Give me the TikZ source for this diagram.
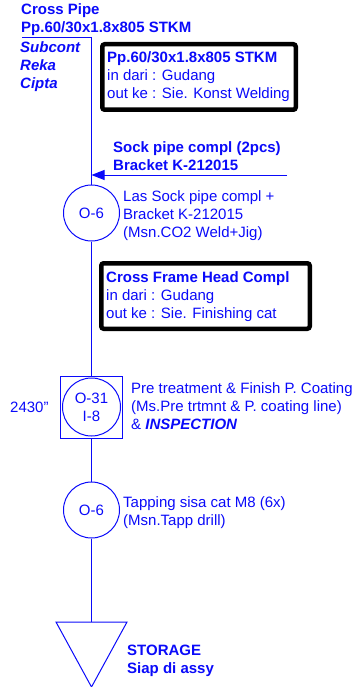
\documentclass[tikz,border=0pt]{standalone}
\usepackage{fontspec}
\setmainfont{Liberation Sans}
\usetikzlibrary{arrows.meta}
\definecolor{fc}{RGB}{10,10,250}
\begin{document}
\begin{tikzpicture}[x=1pt,y=-1pt,
  txt/.style={anchor=base west, inner sep=0pt, align=left, text=fc, font=\fontsize{15}{18}\selectfont},
  ln/.style={draw=fc, line width=1pt},
  opc/.style={circle, draw=fc, line width=1pt, minimum size=56pt, inner sep=0pt, text=fc, align=center, font=\fontsize{15}{18}\selectfont},
  infobox/.style={draw=black, line width=4.5pt, rounded corners=2.5pt, fill=white, inner sep=0pt}]
\useasboundingbox (0,0) rectangle (357,687);
% top material (anchor = baseline of the last line)
\node[txt, font=\fontsize{15}{18}\selectfont\bfseries] (mat) at (21,33) {Cross Pipe\\Pp.60/30x1.8x805 STKM};
\node[txt, font=\fontsize{15}{18}\selectfont\bfseries\itshape] (sub) at (20,89) {Subcont\\Reka\\Cipta};
\coordinate (bl) at (22,38);
\coordinate (br) at (91.5,38);
% info box 1
\node[infobox, minimum width=193.5pt, minimum height=65.5pt] (b1) at (199,77) {};
\node[txt] (b1t) at (107,99) {\textbf{Pp.60/30x1.8x805 STKM}\\in dari : Gudang\\out ke : Sie. Konst Welding};
% incoming arrow
\coordinate (ain) at (287,175);
\coordinate (aout) at (91.5,175);
\node[txt, font=\fontsize{15}{18}\selectfont\bfseries] (sock) at (113,171) {Sock pipe compl (2pcs)\\Bracket K-212015};
% operation 1
\node[opc] (o1) at (91.5,213) {O-6};
\node[txt] (o1t) at (123,237) {Las Sock pipe compl +\\Bracket K-212015\\(Msn.CO2 Weld+Jig)};
% info box 2
\node[infobox, minimum width=208.5pt, minimum height=65.5pt] (b2) at (205.5,296) {};
\node[txt] (b2t) at (106,318) {\textbf{Cross Frame Head Compl}\\in dari : Gudang\\out ke : Sie. Finishing cat};
% combined operation/inspection
\node[draw=fc, line width=1pt, minimum size=62pt, inner sep=0pt] (sq) at (91.5,407) {};
\node[opc, minimum size=58pt] (o2) at (91.5,407) {O-31\\I-8};
\node[txt] (o2l) at (10,412) {2430\symbol{34}};
\node[txt] (o2t) at (131,429) {Pre treatment \& Finish P. Coating\\(Ms.Pre trtmnt \& P. coating line)\\\& \textbf{\textit{INSPECTION}}};
% operation 3
\node[opc] (o3) at (91.5,510) {O-6};
\node[txt] (o3t) at (123,525) {Tapping sisa cat M8 (6x)\\(Msn.Tapp drill)};
% storage
\coordinate (tri) at (91.5,622);
\draw[ln, line join=miter] (56,622) -- (127,622) -- (91.5,687) -- cycle;
\node[txt, font=\fontsize{15}{18}\selectfont\bfseries] (st) at (127,673) {STORAGE\\Siap di assy};
% connectors
\draw[ln] (bl) -- (br) -- (o1.north);
\draw[ln, -{Triangle[length=13pt,width=10pt]}] (ain) -- (aout);
\draw[ln] (o1.south) -- (sq.north);
\draw[ln] (sq.south) -- (o3.north);
\draw[ln] (o3.south) -- (tri);
\end{tikzpicture}
\end{document}
